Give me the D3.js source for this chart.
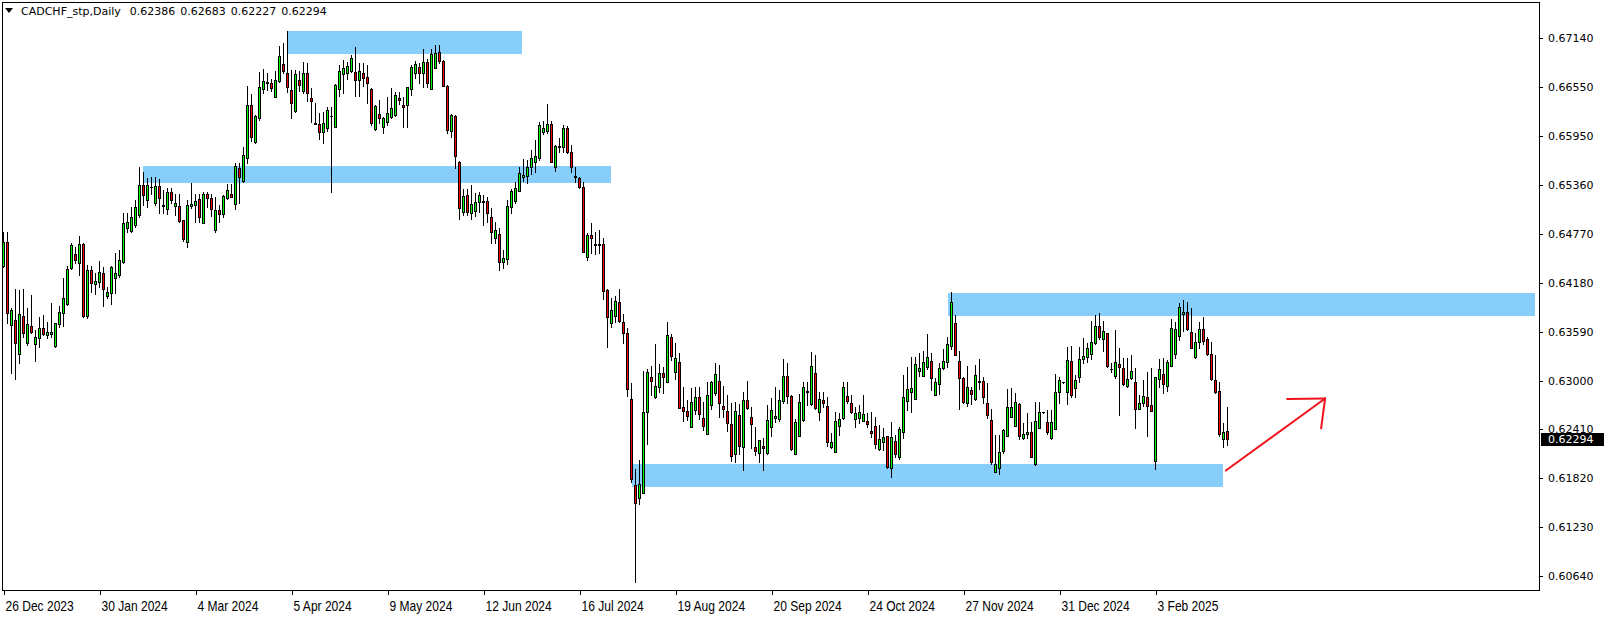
<!DOCTYPE html>
<html><head><meta charset="utf-8">
<script src="https://cdn.jsdelivr.net/npm/d3@7"></script>
<style>html,body{margin:0;padding:0;background:#fff;}svg{display:block;}</style>
</head><body>
<svg id="chart" width="1604" height="619"></svg>
<script>
// ---------------- DATA ----------------
const symbolTitle = "CADCHF_stp,Daily";
const lastQuote = ["0.62386", "0.62683", "0.62227", "0.62294"];
const lastPrice = 0.62294;

const open = [
0.64389,0.64671,0.63668,0.63732,0.63317,0.63781,0.63458,0.63660,0.63446,0.63511,
0.63635,0.63555,0.63563,0.63414,0.63680,0.63813,0.63922,0.64357,0.64530,0.64425,
0.64651,0.63781,0.64333,0.64163,0.64188,0.64300,0.64026,0.64055,0.64236,0.64276,
0.64437,0.64840,0.64812,0.64877,0.65002,0.65364,0.65183,0.65342,0.65149,0.65350,
0.65128,0.65068,0.65274,0.65116,0.65108,0.64939,0.64677,0.65116,0.65128,0.65189,
0.64907,0.65261,0.65201,0.64826,0.65056,0.65008,0.65209,0.65261,0.65140,0.65564,
0.65415,0.65685,0.66329,0.65886,0.66168,0.66519,0.66591,0.66595,0.66430,0.66624,
0.66825,0.66712,0.66511,0.66261,0.66632,0.66499,0.66716,0.66414,0.66112,0.66096,
0.66000,0.66056,0.66197,0.66068,0.66528,0.66701,0.66713,0.66745,0.66725,0.66637,
0.66713,0.66669,0.66520,0.66044,0.66217,0.66060,0.66121,0.66189,0.66209,0.66411,
0.66326,0.66326,0.66520,0.66713,0.66794,0.66713,0.66846,0.66520,0.66774,0.66967,
0.66862,0.66564,0.66016,0.66197,0.65645,0.65041,0.65242,0.65020,0.65053,0.65153,
0.65169,0.65169,0.64972,0.64718,0.64767,0.64428,0.64468,0.65101,0.65169,0.65294,
0.65464,0.65476,0.65577,0.65637,0.65685,0.66008,0.66020,0.66100,0.65577,0.65826,
0.65826,0.66056,0.65758,0.65472,0.65444,0.65343,0.64496,0.64758,0.64650,0.64642,
0.64650,0.64096,0.63701,0.63786,0.63947,0.63705,0.63572,0.62774,0.61739,0.61577,
0.61638,0.62617,0.63040,0.62807,0.62927,0.63089,0.62980,0.63524,0.63101,0.63222,
0.62678,0.62633,0.62444,0.62645,0.62798,0.62545,0.62351,0.62706,0.62855,0.62996,
0.62694,0.62633,0.62476,0.62109,0.62585,0.62202,0.62766,0.62565,0.62194,0.62121,
0.62210,0.62122,0.62444,0.62553,0.62537,0.62759,0.63057,0.62815,0.62110,0.62335,
0.62525,0.62867,0.62718,0.63089,0.62626,0.62767,0.62694,0.62202,0.62142,0.62456,
0.62545,0.62815,0.62734,0.62533,0.62553,0.62517,0.62517,0.62396,0.62452,0.62170,
0.62255,0.62331,0.61940,0.62271,0.62073,0.62376,0.62759,0.62867,0.62775,0.63121,
0.63060,0.63169,0.63238,0.62827,0.62956,0.63149,0.63222,0.63423,0.63693,0.63238,
0.63028,0.62734,0.62887,0.62774,0.62988,0.62996,0.62726,0.62524,0.61900,0.61940,
0.62154,0.62335,0.62565,0.62456,0.62718,0.62311,0.62351,0.62375,0.61988,0.62432,
0.62617,0.62504,0.62303,0.62412,0.62867,0.62980,0.62859,0.63238,0.62907,0.63040,
0.63266,0.63282,0.63318,0.63451,0.63661,0.63508,0.63572,0.63137,0.63060,0.63197,
0.63149,0.62935,0.63028,0.62980,0.62661,0.62726,0.62798,0.62706,0.62033,0.63016,
0.63076,0.62940,0.63181,0.63318,0.63544,0.63802,0.63826,0.63584,0.63282,0.63463,
0.63621,0.63500,0.63322,0.63008,0.62875,0.62291,0.62386];
const high = [
0.64792,0.64792,0.63873,0.64103,0.64095,0.64103,0.63873,0.64034,0.63611,0.63772,
0.63793,0.63712,0.63942,0.63700,0.63905,0.64236,0.64385,0.64667,0.64619,0.64748,
0.64660,0.64397,0.64385,0.64304,0.64450,0.64377,0.64127,0.64385,0.64538,0.64578,
0.65022,0.65022,0.65102,0.65183,0.65582,0.65521,0.65449,0.65463,0.65463,0.65431,
0.65302,0.65330,0.65330,0.65261,0.65253,0.64939,0.65181,0.65394,0.65261,0.65261,
0.65274,0.65274,0.65261,0.65221,0.65120,0.65241,0.65374,0.65382,0.65624,0.65624,
0.65826,0.66559,0.66462,0.66208,0.66724,0.66761,0.66712,0.66644,0.66744,0.67043,
0.67083,0.67224,0.66753,0.66753,0.66744,0.66849,0.66841,0.66531,0.66350,0.66229,
0.66250,0.66310,0.66310,0.66584,0.66814,0.66874,0.66854,0.66935,0.67036,0.66834,
0.66834,0.66814,0.66532,0.66330,0.66391,0.66189,0.66431,0.66532,0.66492,0.66492,
0.66431,0.66552,0.66814,0.66866,0.66842,0.67003,0.66882,0.67003,0.67056,0.67056,
0.66874,0.66572,0.66221,0.66209,0.65657,0.65311,0.65311,0.65363,0.65262,0.65282,
0.65242,0.65222,0.65081,0.64920,0.64839,0.64577,0.65182,0.65315,0.65395,0.65576,
0.65673,0.65665,0.65786,0.65907,0.66121,0.66137,0.66342,0.66137,0.65847,0.65935,
0.66088,0.66080,0.65847,0.65585,0.65464,0.65403,0.64779,0.64908,0.64799,0.64819,
0.64718,0.64104,0.63995,0.64024,0.64104,0.63806,0.63641,0.62968,0.61928,0.62041,
0.63121,0.63137,0.63177,0.63443,0.63201,0.63161,0.63709,0.63564,0.63451,0.63338,
0.62919,0.62766,0.62907,0.62919,0.62927,0.62746,0.62988,0.62996,0.63209,0.63189,
0.62935,0.62827,0.62734,0.62746,0.62718,0.62859,0.63000,0.62686,0.62444,0.62283,
0.62303,0.62706,0.62787,0.62928,0.62888,0.63262,0.63210,0.62827,0.62533,0.62839,
0.62988,0.62988,0.63351,0.63311,0.62867,0.62867,0.62807,0.62364,0.62626,0.62605,
0.62988,0.62988,0.62827,0.62686,0.62706,0.62827,0.62605,0.62626,0.62565,0.62464,
0.62432,0.62331,0.62505,0.62343,0.62436,0.63069,0.63170,0.63291,0.63291,0.63339,
0.63359,0.63564,0.63330,0.63036,0.63209,0.63383,0.63532,0.64076,0.63794,0.63359,
0.63040,0.63177,0.62927,0.63189,0.63262,0.63048,0.62968,0.62653,0.62343,0.62343,
0.62412,0.62895,0.62907,0.62855,0.62726,0.62484,0.62605,0.62504,0.62746,0.62746,
0.62625,0.62645,0.62645,0.63081,0.63040,0.62988,0.63411,0.63419,0.63068,0.63411,
0.63512,0.63459,0.63721,0.63794,0.63814,0.63721,0.63580,0.63218,0.63612,0.63391,
0.63270,0.63270,0.63310,0.63149,0.62827,0.63008,0.63109,0.63149,0.63040,0.63258,
0.63270,0.63250,0.63746,0.63713,0.63935,0.63975,0.63955,0.63874,0.63572,0.63713,
0.63766,0.63524,0.63471,0.63310,0.62988,0.62484,0.62683];
const low = [
0.64377,0.63692,0.63095,0.63015,0.63208,0.63531,0.63430,0.63571,0.63241,0.63402,
0.63551,0.63519,0.63531,0.63410,0.63652,0.63660,0.63918,0.64345,0.64417,0.64276,
0.63773,0.63752,0.64075,0.64043,0.64127,0.63901,0.63994,0.63926,0.64063,0.64256,
0.64417,0.64800,0.64800,0.64861,0.64978,0.65123,0.65098,0.65261,0.65128,0.65020,
0.65028,0.65008,0.65149,0.65000,0.64919,0.64689,0.64617,0.65088,0.64919,0.64911,
0.64899,0.65100,0.64991,0.64802,0.64911,0.64979,0.65197,0.65213,0.65068,0.65149,
0.65403,0.65624,0.65898,0.65874,0.66148,0.66471,0.66511,0.66503,0.66422,0.66612,
0.66712,0.66491,0.66176,0.66249,0.66499,0.66479,0.66382,0.66128,0.66100,0.65914,
0.65875,0.66016,0.65282,0.66068,0.66443,0.66471,0.66641,0.66733,0.66439,0.66439,
0.66560,0.66350,0.66088,0.66028,0.66117,0.65996,0.66088,0.66169,0.66197,0.66342,
0.66068,0.66068,0.66451,0.66653,0.66592,0.66552,0.66552,0.66520,0.66774,0.66834,
0.66560,0.65988,0.65947,0.65565,0.64948,0.65000,0.65000,0.64952,0.64992,0.65041,
0.64879,0.64920,0.64666,0.64658,0.64335,0.64363,0.64404,0.65020,0.65141,0.65294,
0.65411,0.65383,0.65496,0.65516,0.65665,0.65975,0.65988,0.65645,0.65532,0.65766,
0.65766,0.65746,0.65516,0.65403,0.65331,0.64557,0.64456,0.64537,0.64529,0.64537,
0.63985,0.63411,0.63645,0.63713,0.63713,0.63459,0.62815,0.61779,0.60570,0.61505,
0.61638,0.62234,0.62827,0.62794,0.62867,0.62847,0.62980,0.63250,0.63016,0.62674,
0.62516,0.62524,0.62444,0.62597,0.62532,0.62404,0.62351,0.62657,0.62827,0.62565,
0.62565,0.62395,0.62033,0.62021,0.62109,0.61920,0.62653,0.62182,0.62101,0.62021,
0.61920,0.62114,0.62331,0.62505,0.62517,0.62726,0.62726,0.62162,0.62110,0.62335,
0.62513,0.62706,0.62706,0.62654,0.62525,0.62686,0.62210,0.62182,0.62142,0.62343,
0.62533,0.62726,0.62614,0.62436,0.62485,0.62517,0.62444,0.62323,0.62182,0.62162,
0.62162,0.61940,0.61840,0.62073,0.62049,0.62303,0.62646,0.62626,0.62775,0.63057,
0.63060,0.63137,0.62887,0.62827,0.62839,0.63137,0.63169,0.63383,0.63306,0.62653,
0.62734,0.62694,0.62718,0.62766,0.62895,0.62734,0.62545,0.61993,0.61900,0.61868,
0.62121,0.62335,0.62565,0.62452,0.62291,0.62291,0.62303,0.62073,0.61980,0.62424,
0.62609,0.62355,0.62291,0.62412,0.62726,0.62972,0.62714,0.62807,0.62807,0.62988,
0.63209,0.63230,0.63258,0.63443,0.63500,0.63363,0.63161,0.63109,0.63036,0.62585,
0.62948,0.62927,0.63016,0.62432,0.62661,0.62694,0.62335,0.62633,0.61928,0.62927,
0.62847,0.62875,0.63177,0.63278,0.63492,0.63604,0.63613,0.63391,0.63270,0.63399,
0.63443,0.63306,0.63008,0.62847,0.62335,0.62194,0.62227];
const close = [
0.64671,0.63813,0.63853,0.63458,0.63801,0.63579,0.63680,0.63591,0.63527,0.63631,
0.63567,0.63587,0.63583,0.63692,0.63825,0.63994,0.64345,0.64639,0.64458,0.64651,
0.63781,0.64337,0.64175,0.64204,0.64313,0.64103,0.64067,0.64369,0.64304,0.64454,
0.64901,0.64917,0.64982,0.65102,0.65364,0.65243,0.65364,0.65334,0.65350,0.65201,
0.65116,0.65274,0.65181,0.65145,0.64931,0.64709,0.65128,0.65132,0.65173,0.64979,
0.65261,0.65201,0.65068,0.65056,0.65016,0.65229,0.65298,0.65221,0.65592,0.65455,
0.65725,0.66329,0.65938,0.66196,0.66543,0.66620,0.66607,0.66539,0.66632,0.66922,
0.66740,0.66551,0.66358,0.66700,0.66567,0.66716,0.66471,0.66382,0.66104,0.66007,
0.66109,0.66270,0.66193,0.66572,0.66745,0.66774,0.66802,0.66894,0.66637,0.66737,
0.66653,0.66592,0.66117,0.66318,0.66169,0.66169,0.66230,0.66290,0.66447,0.66395,
0.66310,0.66544,0.66786,0.66822,0.66713,0.66854,0.66592,0.66943,0.66955,0.66862,
0.66560,0.66028,0.66209,0.65718,0.65089,0.65234,0.65041,0.65129,0.65153,0.65242,
0.65161,0.65028,0.64799,0.64819,0.64436,0.64476,0.65109,0.65294,0.65323,0.65504,
0.65484,0.65585,0.65685,0.65714,0.66088,0.66048,0.66100,0.65645,0.65834,0.65834,
0.66056,0.65758,0.65585,0.65456,0.65343,0.64557,0.64758,0.64726,0.64642,0.64650,
0.64085,0.63766,0.63854,0.63963,0.63725,0.63572,0.62895,0.61811,0.61517,0.61751,
0.62617,0.63101,0.63000,0.62935,0.63089,0.63048,0.63552,0.63302,0.63270,0.62674,
0.62633,0.62577,0.62738,0.62798,0.62593,0.62456,0.62827,0.62980,0.63077,0.62734,
0.62653,0.62484,0.62093,0.62633,0.62214,0.62766,0.62665,0.62472,0.62154,0.62283,
0.62182,0.62525,0.62646,0.62573,0.62767,0.63057,0.62819,0.62170,0.62501,0.62742,
0.62920,0.62875,0.63178,0.62666,0.62775,0.62734,0.62263,0.62255,0.62513,0.62533,
0.62924,0.62759,0.62626,0.62614,0.62622,0.62597,0.62472,0.62364,0.62235,0.62295,
0.62315,0.61961,0.62315,0.62110,0.62412,0.62799,0.62896,0.62908,0.63202,0.63149,
0.63226,0.63290,0.63028,0.62980,0.63149,0.63234,0.63439,0.63947,0.63306,0.63028,
0.62746,0.62919,0.62835,0.63064,0.62996,0.62798,0.62585,0.62021,0.61993,0.62142,
0.62403,0.62678,0.62678,0.62738,0.62335,0.62351,0.62383,0.62081,0.62512,0.62617,
0.62617,0.62375,0.62496,0.62859,0.63008,0.62980,0.63250,0.62827,0.63008,0.63258,
0.63298,0.63391,0.63463,0.63661,0.63532,0.63601,0.63177,0.63137,0.63226,0.63169,
0.62960,0.63020,0.63117,0.62653,0.62726,0.62815,0.62698,0.62637,0.63040,0.63137,
0.62956,0.63222,0.63633,0.63621,0.63887,0.63834,0.63621,0.63391,0.63463,0.63621,
0.63484,0.63318,0.63016,0.62867,0.62351,0.62375,0.62294];

// price-axis labels and date labels (bar index of each date label)
const priceTicks = [0.67140,0.66550,0.65950,0.65360,0.64770,0.64180,0.63590,0.63000,0.62410,0.61820,0.61230,0.60640];
const dateLabels = ["26 Dec 2023","30 Jan 2024","4 Mar 2024","5 Apr 2024","9 May 2024","12 Jun 2024","16 Jul 2024","19 Aug 2024","20 Sep 2024","24 Oct 2024","27 Nov 2024","31 Dec 2024","3 Feb 2025"];
const dateBars = [0,24,48,72,96,120,144,168,192,216,240,264,288];

// support / resistance zones: [startBar, endBar, topPrice, bottomPrice]
const zoneStart = [71, 34.9, 236.1, 157.1];
const zoneEnd   = [129.6, 151.9, 382.9, 304.9];
const zoneTop   = [0.67224, 0.65594, 0.64063, 0.61994];
const zoneBot   = [0.66950, 0.65392, 0.63786, 0.61720];

// hand-drawn arrow: shaft start, tip, two wing ends (bar, price)
const arrowBars   = [305.6, 330.4, 320.9, 329.4];
const arrowPrices = [0.61914, 0.62785, 0.62779, 0.62424];

// ---------------- CHART ----------------
const svg = d3.select("#chart");
const W = 1604, H = 619;
const plotL = 2, plotT = 2, plotR = 1540, plotB = 591;
const x = d3.scaleLinear().domain([0, 384]).range([3.5, 1539.5]);
const y = d3.scaleLinear().domain([0.6714, 0.6064]).range([38, 576]);

svg.append("rect").attr("width", W).attr("height", H).attr("fill", "#fff");

svg.append("defs").append("clipPath").attr("id","plotclip")
  .append("rect").attr("x", plotL).attr("y", plotT).attr("width", plotR-plotL).attr("height", plotB-plotT);

const plot = svg.append("g").attr("clip-path","url(#plotclip)");

// zones
plot.selectAll("rect.zone").data(zoneStart).join("rect").attr("class","zone")
  .attr("x", (d,i) => Math.round(x(zoneStart[i])))
  .attr("width", (d,i) => Math.round(x(zoneEnd[i])) - Math.round(x(zoneStart[i])))
  .attr("y", (d,i) => Math.round(y(zoneTop[i])))
  .attr("height", (d,i) => Math.round(y(zoneBot[i])) - Math.round(y(zoneTop[i])))
  .attr("fill", "#87cefa");

// candles
const idx = d3.range(close.length);
const cg = plot.append("g").attr("shape-rendering","crispEdges");
cg.selectAll("line.wick").data(idx).join("line").attr("class","wick")
  .attr("x1", i => x(i)).attr("x2", i => x(i))
  .attr("y1", i => Math.round(y(high[i])))
  .attr("y2", i => Math.round(y(low[i])) + 1)
  .attr("stroke", "#000").attr("stroke-width", 1);

idx.forEach(i => {
  const yo = Math.round(y(open[i])), yc = Math.round(y(close[i]));
  const top = Math.min(yo, yc), bot = Math.max(yo, yc);
  const cx = x(i);
  if (bot - top < 1) {
    cg.append("line").attr("x1", cx - 1.5).attr("x2", cx + 1.5)
      .attr("y1", top + 0.5).attr("y2", top + 0.5)
      .attr("stroke", "#000").attr("stroke-width", 1);
  } else {
    cg.append("rect").attr("x", cx - 1).attr("y", top + 0.5)
      .attr("width", 2).attr("height", bot - top)
      .attr("fill", close[i] >= open[i] ? "#00ff00" : "#ff0000")
      .attr("stroke", "#000").attr("stroke-width", 1);
  }
});

// arrow
const ap = arrowBars.map((b,i) => [x(b), y(arrowPrices[i])]);
const ag = svg.append("g").attr("stroke", "#f0141e").attr("stroke-width", 2).attr("stroke-linecap","round");
ag.append("line").attr("x1", ap[0][0]).attr("y1", ap[0][1]).attr("x2", ap[1][0]).attr("y2", ap[1][1]);
ag.append("line").attr("x1", ap[1][0]).attr("y1", ap[1][1]).attr("x2", ap[2][0]).attr("y2", ap[2][1]);
ag.append("line").attr("x1", ap[1][0]).attr("y1", ap[1][1]).attr("x2", ap[3][0]).attr("y2", ap[3][1]);

// frame
svg.append("rect").attr("x", plotL + 0.5).attr("y", plotT + 0.5)
  .attr("width", plotR - plotL - 1).attr("height", plotB - plotT - 1)
  .attr("fill", "none").attr("stroke", "#000").attr("shape-rendering","crispEdges");

// right price axis
const axisFont = "'DejaVu Sans', Verdana, sans-serif";
const ra = svg.append("g");
priceTicks.forEach(p => {
  const yy = Math.round(y(p)) + 0.5;
  ra.append("line").attr("x1", plotR - 1).attr("x2", plotR + 3).attr("y1", yy).attr("y2", yy)
    .attr("stroke", "#000").attr("shape-rendering","crispEdges");
  ra.append("text").attr("x", plotR + 8).attr("y", yy).attr("dy", "0.35em")
    .attr("font-family", axisFont).attr("font-size", 11).attr("fill", "#000")
    .text(p.toFixed(5));
});
// current price tag
const yl = Math.round(y(lastPrice));
ra.append("rect").attr("x", plotR + 1).attr("y", yl - 6).attr("width", W - plotR - 1).attr("height", 13).attr("fill", "#000");
ra.append("text").attr("x", plotR + 8).attr("y", yl + 0.5).attr("dy", "0.35em")
  .attr("font-family", axisFont).attr("font-size", 11).attr("fill", "#fff").text(lastPrice.toFixed(5));

// bottom date axis
const ba = svg.append("g");
dateBars.forEach((b, k) => {
  const xx = Math.round(x(b)) + 0.5;
  ba.append("line").attr("x1", xx).attr("x2", xx).attr("y1", plotB - 1).attr("y2", plotB + 4)
    .attr("stroke", "#000").attr("shape-rendering","crispEdges");
  ba.append("text").attr("transform", `translate(${xx + 1},611) scale(0.86,1)`)
    .attr("font-family", "'Liberation Sans', Arial, sans-serif")
    .attr("font-size", 14).attr("fill", "#000").text(dateLabels[k]);
});

// header
svg.append("path").attr("d", "M5,8 L13,8 L9,13 Z").attr("fill", "#000");
const hdr = svg.append("text").attr("x", 21).attr("y", 15)
  .attr("font-family", axisFont).attr("font-size", 11).attr("fill", "#000");
hdr.append("tspan").text(symbolTitle);
lastQuote.forEach((q, k) => hdr.append("tspan").attr("dx", k === 0 ? 9 : 5).text(q));
</script>
</body></html>
